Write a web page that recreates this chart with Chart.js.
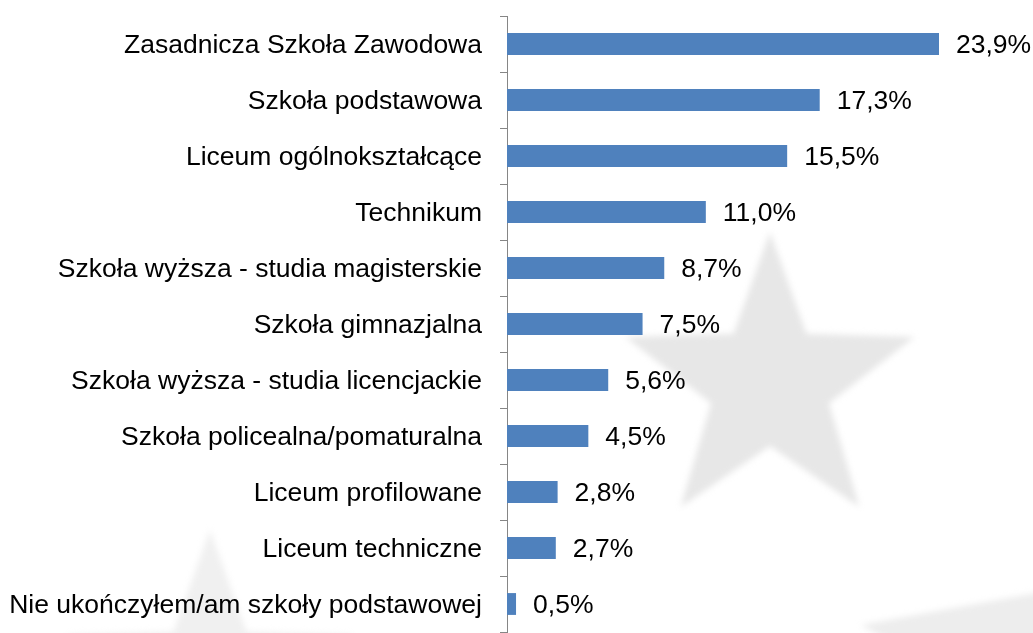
<!DOCTYPE html>
<html>
<head>
<meta charset="utf-8">
<script src="https://cdn.jsdelivr.net/npm/chart.js@4/dist/chart.umd.min.js"></script>
<style>
html,body{margin:0;padding:0;background:#fff;}
#wrap{position:relative;width:1033px;height:633px;}
</style>
</head>
<body>
<div id="wrap"><canvas id="c" width="1033" height="633"></canvas></div>
<script>
const categories = [
  "Zasadnicza Szkoła Zawodowa",
  "Szkoła podstawowa",
  "Liceum ogólnokształcące",
  "Technikum",
  "Szkoła wyższa - studia magisterskie",
  "Szkoła gimnazjalna",
  "Szkoła wyższa - studia licencjackie",
  "Szkoła policealna/pomaturalna",
  "Liceum profilowane",
  "Liceum techniczne",
  "Nie ukończyłem/am szkoły podstawowej"
];
const values = [23.9, 17.3, 15.5, 11.0, 8.7, 7.5, 5.6, 4.5, 2.8, 2.7, 0.5];

const FONT = "'Liberation Sans', Arial, sans-serif";
const FONT_SIZE = 26.5;

function starPath(ctx, cx, cy, R, r, rot) {
  ctx.beginPath();
  for (let i = 0; i < 10; i++) {
    const rad = i % 2 === 0 ? R : r;
    const a = -Math.PI / 2 + rot + i * Math.PI / 5;
    const x = cx + rad * Math.cos(a), y = cy + rad * Math.sin(a);
    if (i === 0) ctx.moveTo(x, y); else ctx.lineTo(x, y);
  }
  ctx.closePath();
}

const watermark = {
  id: 'watermark',
  beforeDraw(chart) {
    const ctx = chart.ctx;
    ctx.save();
    ctx.fillStyle = '#fff';
    ctx.fillRect(0, 0, chart.width, chart.height);
    ctx.filter = 'blur(3px)';
    ctx.fillStyle = '#e7e7e7';
    starPath(ctx, 770, 384, 152, 62, 0);
    ctx.fill();
    ctx.fillStyle = '#f0f0f0';
    starPath(ctx, 210, 682, 152, 62, 0);
    ctx.fill();
    ctx.fillStyle = '#ededed';
    starPath(ctx, 1150, 670, 293, 117, -0.16);
    ctx.fill();
    ctx.restore();
  }
};

const valueLabels = {
  id: 'valueLabels',
  afterDatasetsDraw(chart) {
    const ctx = chart.ctx;
    const meta = chart.getDatasetMeta(0);
    ctx.save();
    ctx.font = FONT_SIZE + "px " + FONT;
    ctx.fillStyle = '#000';
    ctx.textAlign = 'left';
    ctx.textBaseline = 'middle';
    meta.data.forEach((bar, i) => {
      const txt = values[i].toFixed(1).replace('.', ',') + '%';
      ctx.fillText(txt, bar.x + 17, bar.y + 1.5);
    });
    ctx.restore();
  }
};

new Chart(document.getElementById('c'), {
  type: 'bar',
  data: {
    labels: categories,
    datasets: [{
      data: values,
      backgroundColor: '#4F81BD',
      borderWidth: 0,
      categoryPercentage: 1,
      barPercentage: 0.39
    }]
  },
  options: {
    indexAxis: 'y',
    responsive: false,
    animation: false,
    devicePixelRatio: 1,
    layout: { padding: { top: 16, bottom: 1, left: 0, right: 0 } },
    plugins: { legend: { display: false }, tooltip: { enabled: false } },
    scales: {
      x: {
        display: false,
        min: 0,
        max: 29.1
      },
      y: {
        afterFit(scale) {
          scale.width = 507;
          scale.paddingTop = 0;
          scale.paddingBottom = 0;
        },
        border: { display: true, color: '#868686', width: 1 },
        grid: {
          offset: true,
          drawOnChartArea: false,
          drawTicks: true,
          tickLength: 7,
          color: '#868686'
        },
        ticks: {
          color: '#000',
          padding: 18,
          labelOffset: 1.5,
          font: { family: FONT, size: FONT_SIZE }
        }
      }
    }
  },
  plugins: [watermark, valueLabels]
});
</script>
</body>
</html>
